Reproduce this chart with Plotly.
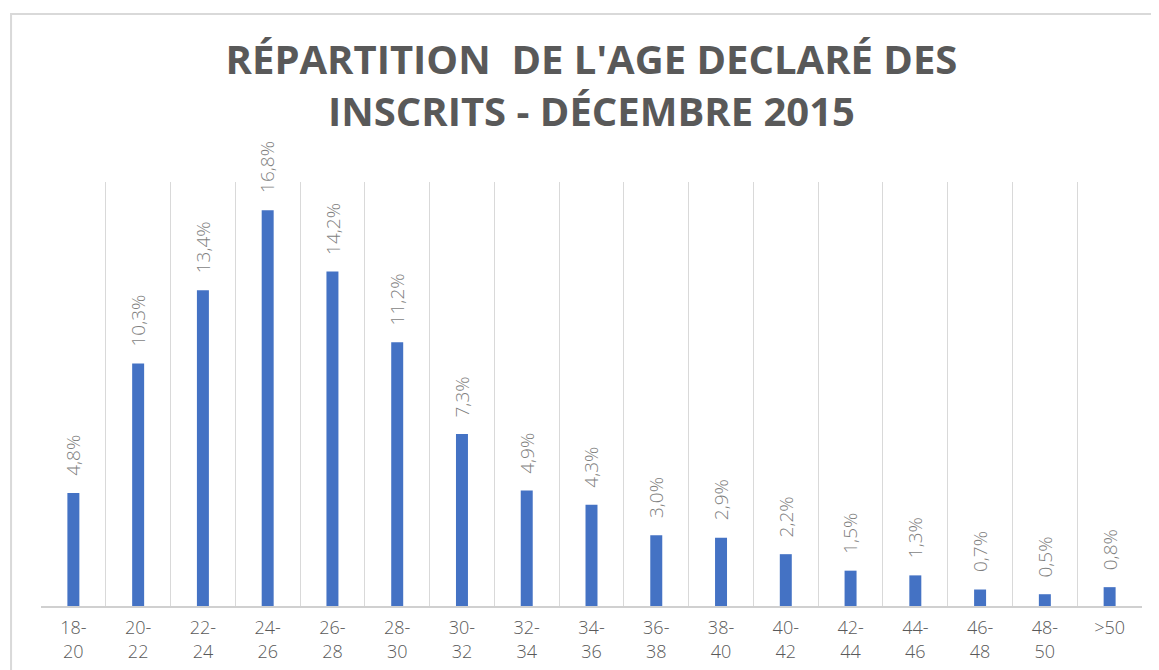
import plotly.graph_objects as go

categories = ["18-20", "20-22", "22-24", "24-26", "26-28", "28-30", "30-32", "32-34",
              "34-36", "36-38", "38-40", "40-42", "42-44", "44-46", "46-48", "48-50", ">50"]
tick_labels = ["18-<br>20", "20-<br>22", "22-<br>24", "24-<br>26", "26-<br>28", "28-<br>30",
               "30-<br>32", "32-<br>34", "34-<br>36", "36-<br>38", "38-<br>40", "40-<br>42",
               "42-<br>44", "44-<br>46", "46-<br>48", "48-<br>50", ">50<br> "]
values = [4.8, 10.3, 13.4, 16.8, 14.2, 11.2, 7.3, 4.9, 4.3, 3.0, 2.9, 2.2, 1.5, 1.3, 0.7, 0.5, 0.8]
value_labels = [f"{v:.1f}".replace(".", ",") + "%" for v in values]

fig = go.Figure()
fig.add_trace(go.Bar(
    x=categories, y=values,
    marker=dict(color="#4472C4", line=dict(width=0)),
    hoverinfo="x+y",
))

for c, v, t in zip(categories, values, value_labels):
    fig.add_annotation(
        x=c, y=v, text=t, showarrow=False, textangle=-90,
        xanchor="center", yanchor="bottom", yshift=15,
        font=dict(family="Open Sans", size=19, color="#7F7F7F", weight=300),
    )

fig.update_layout(
    width=1151, height=662,
    margin=dict(l=33, r=17, t=174, b=64, autoexpand=False),
    paper_bgcolor="white", plot_bgcolor="white",
    bargap=0.815,
    showlegend=False,
    title=dict(
        text="RÉPARTITION  DE L'AGE DECLARÉ DES<br>INSCRITS - DÉCEMBRE 2015",
        x=0.5, xref="paper", xanchor="center",
        y=0.9, yref="container", yanchor="top",
        font=dict(family="Open Sans", size=40, color="#595959", weight="bold"),
    ),
    xaxis=dict(
        type="category", automargin=False,
        tickmode="array", tickvals=categories, ticktext=tick_labels,
        tickson="boundaries", ticks="", ticklabelstandoff=5,
        showgrid=True, gridcolor="#D9D9D9", gridwidth=1,
        showline=True, linecolor="#D0D0D0", linewidth=1.5,
        tickfont=dict(family="Open Sans", size=18, color="#595959", weight=300),
        zeroline=False,
    ),
    yaxis=dict(
        range=[0, 18], showgrid=False, showticklabels=False, automargin=False,
        zeroline=False, showline=False, fixedrange=True,
    ),
    shapes=[dict(
        type="rect", xref="paper", yref="paper",
        x0=-0.0272, x1=1.05, y0=-0.3, y1=1.396,
        line=dict(color="#D9D9D9", width=2), fillcolor="rgba(0,0,0,0)",
        layer="below",
    )],
)

fig.write_html("out.html")
